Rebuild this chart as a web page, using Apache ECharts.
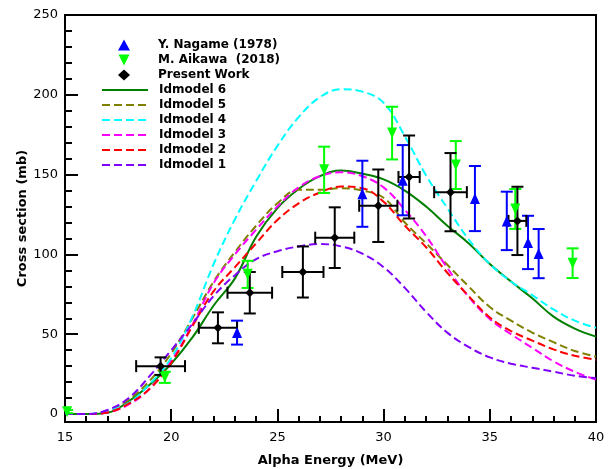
<!DOCTYPE html>
<html>
<head>
<meta charset="utf-8">
<script src="https://cdn.jsdelivr.net/npm/echarts@6/dist/echarts.min.js"></script>
<style>
    html, body { margin: 0; padding: 0; background: #fff; }
    #chart { width: 608px; height: 469px; }
</style>
</head>
<body>
<div id="chart"></div>
<script>
    // energies for the model curves (MeV)
    var energy = [15, 16, 17, 18, 19, 20, 21, 22, 23, 24, 25, 26, 27, 28, 29, 30, 31, 32, 33, 34, 35, 36, 37, 38, 39, 40];
    var model6 = [0, 0, 0.8, 8, 18.5, 31.5, 48, 68, 85, 111, 129, 141, 149, 152.5, 150.5, 147, 140, 130, 118, 107, 94, 83, 72.5, 61, 53.5, 48.5];
    var model5 = [0, 0, 1.5, 9, 21, 38, 60, 83, 101.5, 118, 132, 140.5, 140.5, 141.5, 140, 135.5, 120, 107, 93.5, 80, 67, 58.5, 51, 45, 39.5, 36];
    var model4 = [0, 0, 2, 7, 19, 35, 61, 94, 122, 146, 168, 186, 198.5, 203.5, 202, 195, 174, 149.5, 129, 109.5, 94, 83, 74.5, 65.5, 58.5, 54];
    var model3 = [0, 0, 1, 6, 16, 33, 56, 82, 100, 115.5, 130, 142, 149, 151.5, 149, 142, 128, 111.5, 91.5, 73.5, 59.5, 50, 41.5, 33, 26.5, 21.5];
    var model2 = [0, 0, 1, 6.5, 16, 32, 55, 77, 92, 107, 121.5, 132, 138.8, 142.5, 141.5, 133, 118, 104.5, 88.5, 74, 60.5, 52, 46, 40.5, 36.5, 34];
    var model1 = [0, 0, 2.5, 10, 24, 40, 56.5, 74, 87, 97, 102, 105, 106.5, 105, 100.5, 92, 79, 64, 51, 42, 35.5, 31.5, 29, 26.5, 24, 22.5];

    // Y. Nagame (1978)
    var nagameX = [23.1, 29.0, 30.9, 34.3, 35.8, 36.8, 37.3];
    var nagameY = [51, 138, 146.5, 135, 121, 107.5, 100.5];
    var nagameErr = [7.5, 20.7, 22, 20.4, 18.3, 16.7, 15.4];

    // M. Aikawa (2018)
    var aikawaX = [15.1, 19.7, 23.6, 27.2, 30.4, 33.4, 36.2, 38.9];
    var aikawaY = [1.5, 23, 87.5, 153, 176, 156, 128.5, 94.5];
    var aikawaErr = [1, 3.5, 8.5, 14.5, 16.5, 15, 12.5, 9.3];

    // Present Work
    var presentX = [19.5, 22.2, 23.7, 26.2, 27.7, 29.75, 31.2, 33.15, 36.3];
    var presentY = [30, 54, 76, 89, 110.5, 130.5, 148.5, 139, 121];
    var presentXErr = [1.15, 0.9, 1.05, 0.97, 0.92, 0.9, 0.5, 0.77, 0.42];
    var presentYErr = [5.5, 9.7, 13, 16, 19, 22.7, 26, 24.5, 21.4];

    var yMajor = [0, 50, 100, 150, 200, 250];
    var yMinor = [10, 20, 30, 40, 60, 70, 80, 90, 110, 120, 130, 140, 160, 170, 180, 190, 210, 220, 230, 240];

    var font = 'DejaVu Sans';
    var myChart = echarts.init(document.getElementById('chart'));

    function pairs(xs, ys) {
        return xs.map(function (x, i) { return [x, ys[i]]; });
    }

    function modelSeries(name, ys, color, dashed) {
        return {
            name: name,
            type: 'line',
            data: pairs(energy, ys),
            smooth: 0.4,
            symbol: 'none',
            z: 2,
            lineStyle: { color: color, width: 2, type: dashed ? [8, 4] : 'solid' },
            itemStyle: { color: color }
        };
    }

    // error bars drawn through the axis scales
    function errorSeries(xs, ys, xe, ye, color) {
        var data = xs.map(function (x, i) { return [x, ys[i], xe ? xe[i] : 0, ye[i]]; });
        return {
            type: 'custom',
            name: 'err',
            z: 3,
            clip: true,
            silent: true,
            encode: { x: 0, y: 1 },
            data: data,
            renderItem: function (params, api) {
                var x = api.value(0), y = api.value(1), dx = api.value(2), dy = api.value(3);
                var c = api.coord([x, y]);
                var t = api.coord([x, y + dy]);
                var b = api.coord([x, y - dy]);
                var cap = 6;
                var st = { stroke: color, lineWidth: 2 };
                var ch = [
                    { type: 'line', shape: { x1: c[0], y1: t[1], x2: c[0], y2: b[1] }, style: st },
                    { type: 'line', shape: { x1: c[0] - cap, y1: t[1], x2: c[0] + cap, y2: t[1] }, style: st },
                    { type: 'line', shape: { x1: c[0] - cap, y1: b[1], x2: c[0] + cap, y2: b[1] }, style: st }
                ];
                if (dx > 0) {
                    var l = api.coord([x - dx, y]);
                    var r = api.coord([x + dx, y]);
                    ch.push({ type: 'line', shape: { x1: l[0], y1: c[1], x2: r[0], y2: c[1] }, style: st });
                    ch.push({ type: 'line', shape: { x1: l[0], y1: c[1] - cap, x2: l[0], y2: c[1] + cap }, style: st });
                    ch.push({ type: 'line', shape: { x1: r[0], y1: c[1] - cap, x2: r[0], y2: c[1] + cap }, style: st });
                }
                return { type: 'group', children: ch };
            }
        };
    }

    var legendText = { fontFamily: font, fontWeight: 'bold', fontSize: 12, color: '#000' };
    var modelNames = ['Idmodel 6', 'Idmodel 5', 'Idmodel 4', 'Idmodel 3', 'Idmodel 2', 'Idmodel 1'];

    var option = {
        animation: false,
        backgroundColor: '#fff',
        textStyle: { fontFamily: font },
        grid: {
            left: 65, right: 12, top: 15, bottom: 47,
            outerBoundsMode: 'none',
            containLabel: false,
            show: true, borderColor: '#000', borderWidth: 2, backgroundColor: 'transparent'
        },
        legend: [{
            // measured points
            orient: 'vertical',
            left: 118,
            top: 39,
            padding: 0,
            itemWidth: 12,
            itemHeight: 11,
            itemGap: 3,
            textStyle: Object.assign({ padding: [0, 0, 0, 23] }, legendText),
            data: [
                { name: 'Y. Nagame (1978)' },
                { name: 'M. Aikawa  (2018)', icon: 'path://M0,0L10,0L5,10Z' },
                { name: 'Present Work' }
            ]
        }, {
            // model curves
            orient: 'vertical',
            left: 101,
            top: 84,
            padding: 0,
            itemWidth: 46,
            itemHeight: 11,
            itemGap: 3,
            textStyle: Object.assign({ padding: [0, 0, 0, 6] }, legendText),
            data: modelNames.map(function (n) { return { name: n, itemStyle: { opacity: 0 } }; })
        }],
        xAxis: {
            type: 'value',
            min: 15, max: 40, interval: 5,
            name: 'Alpha Energy (MeV)',
            nameLocation: 'middle',
            nameGap: 32,
            nameTextStyle: { fontFamily: font, fontWeight: 'bold', fontSize: 13, color: '#000' },
            axisLine: { onZero: false, lineStyle: { color: '#000', width: 2 } },
            axisTick: { inside: true, length: 13, lineStyle: { color: '#000', width: 2 } },
            minorTick: { show: true, splitNumber: 5, length: 6, lineStyle: { color: '#000', width: 2 } },
            axisLabel: { color: '#000', fontSize: 13, fontFamily: font, margin: 9 },
            splitLine: { show: false },
            minorSplitLine: { show: false }
        },
        yAxis: [{
            type: 'value',
            min: -5, max: 250,
            name: 'Cross section (mb)',
            nameLocation: 'middle',
            nameGap: 36,
            nameMoveOverlap: false,
            nameTextStyle: { fontFamily: font, fontWeight: 'bold', fontSize: 13, color: '#000' },
            axisLine: { show: true, onZero: false, lineStyle: { color: '#000', width: 2 } },
            axisTick: { show: true, inside: true, length: 13, customValues: yMajor, lineStyle: { color: '#000', width: 2 } },
            axisLabel: { color: '#000', fontSize: 13, fontFamily: font, margin: 7, customValues: yMajor },
            splitLine: { show: false }
        }, {
            type: 'value',
            min: -5, max: 250,
            position: 'left',
            axisLine: { show: false, onZero: false },
            axisTick: { show: true, inside: true, length: 7, customValues: yMinor, lineStyle: { color: '#000', width: 2 } },
            axisLabel: { show: false },
            splitLine: { show: false }
        }],
        series: [
            modelSeries('Idmodel 6', model6, '#007f00', false),
            modelSeries('Idmodel 5', model5, '#808000', true),
            modelSeries('Idmodel 4', model4, '#00ffff', true),
            modelSeries('Idmodel 3', model3, '#ff00ff', true),
            modelSeries('Idmodel 2', model2, '#ff0000', true),
            modelSeries('Idmodel 1', model1, '#7f00ff', true),
            errorSeries(nagameX, nagameY, null, nagameErr, '#0000ff'),
            errorSeries(aikawaX, aikawaY, null, aikawaErr, '#00ff00'),
            errorSeries(presentX, presentY, presentXErr, presentYErr, '#000000'),
            {
                name: 'Y. Nagame (1978)', type: 'scatter', z: 4,
                symbol: 'triangle', symbolSize: [10, 11],
                itemStyle: { color: '#0000ff', opacity: 1 },
                data: pairs(nagameX, nagameY)
            },
            {
                name: 'M. Aikawa  (2018)', type: 'scatter', z: 4,
                symbol: 'triangle', symbolRotate: 180, symbolSize: [10, 11],
                itemStyle: { color: '#00ff00', opacity: 1 },
                data: pairs(aikawaX, aikawaY)
            },
            {
                name: 'Present Work', type: 'scatter', z: 5,
                symbol: 'diamond', symbolSize: 9,
                itemStyle: { color: '#000000', opacity: 1 },
                data: pairs(presentX, presentY)
            }
        ]
    };
    myChart.setOption(option);
</script>
</body>
</html>
